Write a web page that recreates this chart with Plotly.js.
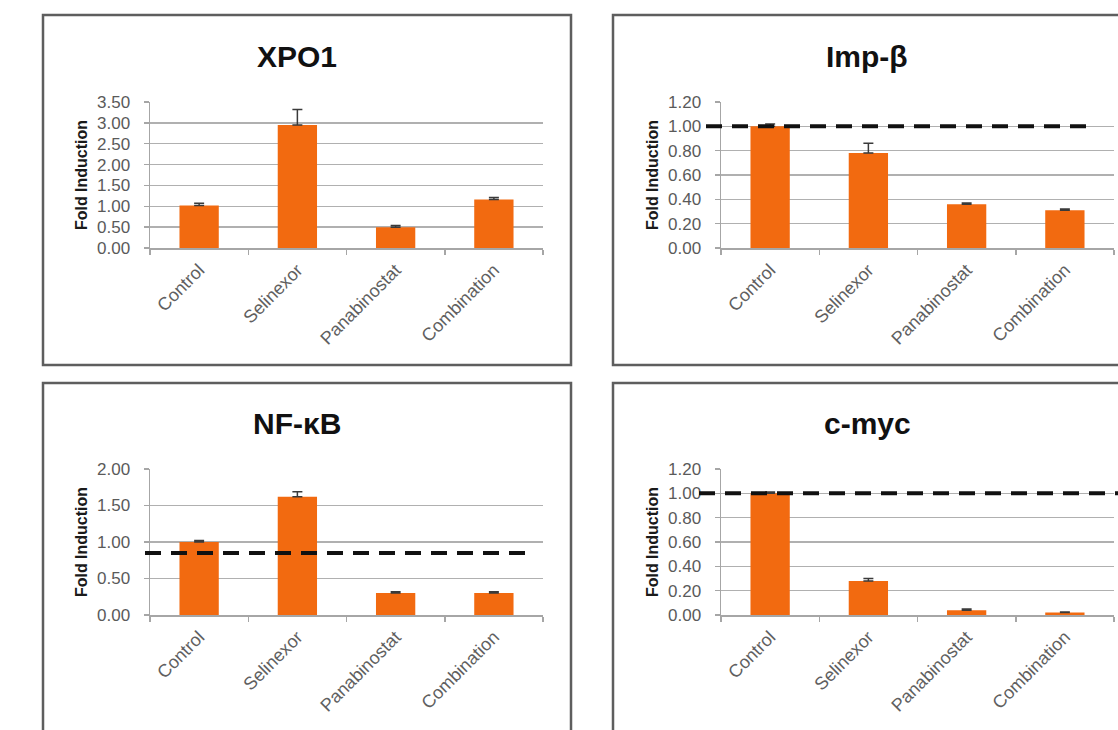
<!DOCTYPE html>
<html>
<head>
<meta charset="utf-8">
<script src="https://cdn.plot.ly/plotly-3.0.1.min.js"></script>
<style>html,body{margin:0;padding:0;background:#fff;}#chart{width:1118px;height:730px;}</style>
</head>
<body>
<div id="chart"></div>
<script>
// ---- data ----
var categories = ['Control', 'Selinexor', 'Panabinostat', 'Combination'];
var panelTitles = ['XPO1', 'Imp-β', 'NF-κB', 'c-myc'];
var xpo1 = [1.02, 2.95, 0.50, 1.16];
var xpo1Err = [0.05, 0.37, 0.04, 0.05];
var impB = [1.00, 0.78, 0.36, 0.31];
var impBErr = [0.02, 0.08, 0.01, 0.01];
var nfkb = [1.00, 1.62, 0.30, 0.30];
var nfkbErr = [0.02, 0.07, 0.02, 0.02];
var cmyc = [1.00, 0.28, 0.04, 0.02];
var cmycErr = [0.01, 0.02, 0.01, 0.005];
var yMax = [3.5, 1.2, 2.0, 1.2];
var yStep = [0.5, 0.2, 0.5, 0.2];
var refLine = [null, 1.0, 0.85, 1.0];
var yAxisTitle = 'Fold Induction';

// ---- layout helpers (pixel -> paper) ----
var W = 1118, H = 730;
function fx(px) { return px / W; }
function fy(py) { return 1 - py / H; }

var values = [xpo1, impB, nfkb, cmyc];
var errors = [xpo1Err, impBErr, nfkbErr, cmycErr];
// plot areas in px: [left, right, top, bottom]
var areas = [[150, 543, 102, 248], [721, 1114, 102, 248], [150, 543, 469, 615], [721, 1114, 469, 615]];
// panel boxes in px
var boxes = [[43, 571, 15, 365], [613, 1141, 15, 365], [43, 571, 383, 733], [613, 1141, 383, 733]];
// dashed line horizontal extents (px)
var refExtent = [null, [706, 1090], [145, 532], [699, 1118]];
var titleCenters = [[297, 56], [867, 56], [297, 424], [867, 424]];

var traces = [];
var layout = {
  width: W, height: H,
  margin: {l: 0, r: 0, t: 0, b: 0},
  paper_bgcolor: '#ffffff',
  plot_bgcolor: '#ffffff',
  showlegend: false,
  bargap: 0.6,
  font: {family: 'Liberation Sans, Arial, sans-serif', color: '#595959'},
  shapes: [],
  annotations: []
};

for (var i = 0; i < 4; i++) {
  var sfx = i === 0 ? '' : String(i + 1);
  var a = areas[i];
  traces.push({
    type: 'bar',
    x: categories,
    y: values[i],
    xaxis: 'x' + sfx,
    yaxis: 'y' + sfx,
    marker: {color: '#F26A10', line: {width: 0}},
    error_y: {type: 'data', array: errors[i], symmetric: false,
              arrayminus: errors[i].map(function () { return 0; }),
              color: '#3a3a3a', thickness: 1.5, width: 5},
    hoverinfo: 'x+y'
  });
  layout['xaxis' + sfx] = {
    domain: [fx(a[0]), fx(a[1])],
    anchor: 'y' + sfx,
    type: 'category',
    showgrid: false,
    showline: true, linecolor: '#A6A6A6', linewidth: 1.5,
    ticks: 'outside', tickson: 'boundaries', ticklen: 5, tickcolor: '#A6A6A6', tickwidth: 1.5,
    tickangle: -45,
    tickfont: {size: 18, color: '#606060'},
    ticklabelstandoff: 3,
    zeroline: false,
    fixedrange: true
  };
  layout['yaxis' + sfx] = {
    domain: [fy(a[3]), fy(a[2])],
    anchor: 'x' + sfx,
    range: [0, yMax[i]],
    dtick: yStep[i], tick0: 0,
    tickformat: '.2f',
    showgrid: true, gridcolor: '#B0B0B0', gridwidth: 1.5,
    showline: true, linecolor: '#A6A6A6', linewidth: 1.5,
    ticks: 'outside', ticklen: 5, tickcolor: '#A6A6A6', tickwidth: 1.5,
    tickfont: {size: 17, color: '#5a5a5a'},
    ticklabelstandoff: 10,
    zeroline: false,
    title: {text: yAxisTitle, font: {size: 16, color: '#1a1a1a', family: 'Liberation Sans, Arial, sans-serif', weight: 'bold'}, standoff: 5},
    fixedrange: true
  };
  // panel title
  layout.annotations.push({
    text: '<b>' + panelTitles[i] + '</b>',
    xref: 'paper', yref: 'paper',
    x: fx(titleCenters[i][0]), y: fy(titleCenters[i][1]),
    xanchor: 'center', yanchor: 'middle',
    showarrow: false,
    font: {size: 30, color: '#111111', family: 'Liberation Sans, Arial, sans-serif'}
  });
  // panel border
  var b = boxes[i];
  layout.shapes.push({
    type: 'rect', xref: 'paper', yref: 'paper',
    x0: fx(b[0]), x1: fx(b[1]), y0: fy(b[3]), y1: fy(b[2]),
    line: {color: '#5e5e5e', width: 2.5}, fillcolor: 'rgba(0,0,0,0)', layer: 'below'
  });
  // dashed reference line
  if (refLine[i] !== null) {
    var e = refExtent[i];
    var w = a[1] - a[0];
    layout.shapes.push({
      type: 'line',
      xref: 'x' + sfx + ' domain', yref: 'y' + sfx + ' domain',
      x0: (e[0] - a[0]) / w, x1: (e[1] - a[0]) / w,
      y0: refLine[i] / yMax[i], y1: refLine[i] / yMax[i],
      line: {color: '#111111', width: 4, dash: '16px,10px'},
      layer: 'above'
    });
  }
}

Plotly.newPlot('chart', traces, layout, {displayModeBar: false, staticPlot: true});
</script>
</body>
</html>
